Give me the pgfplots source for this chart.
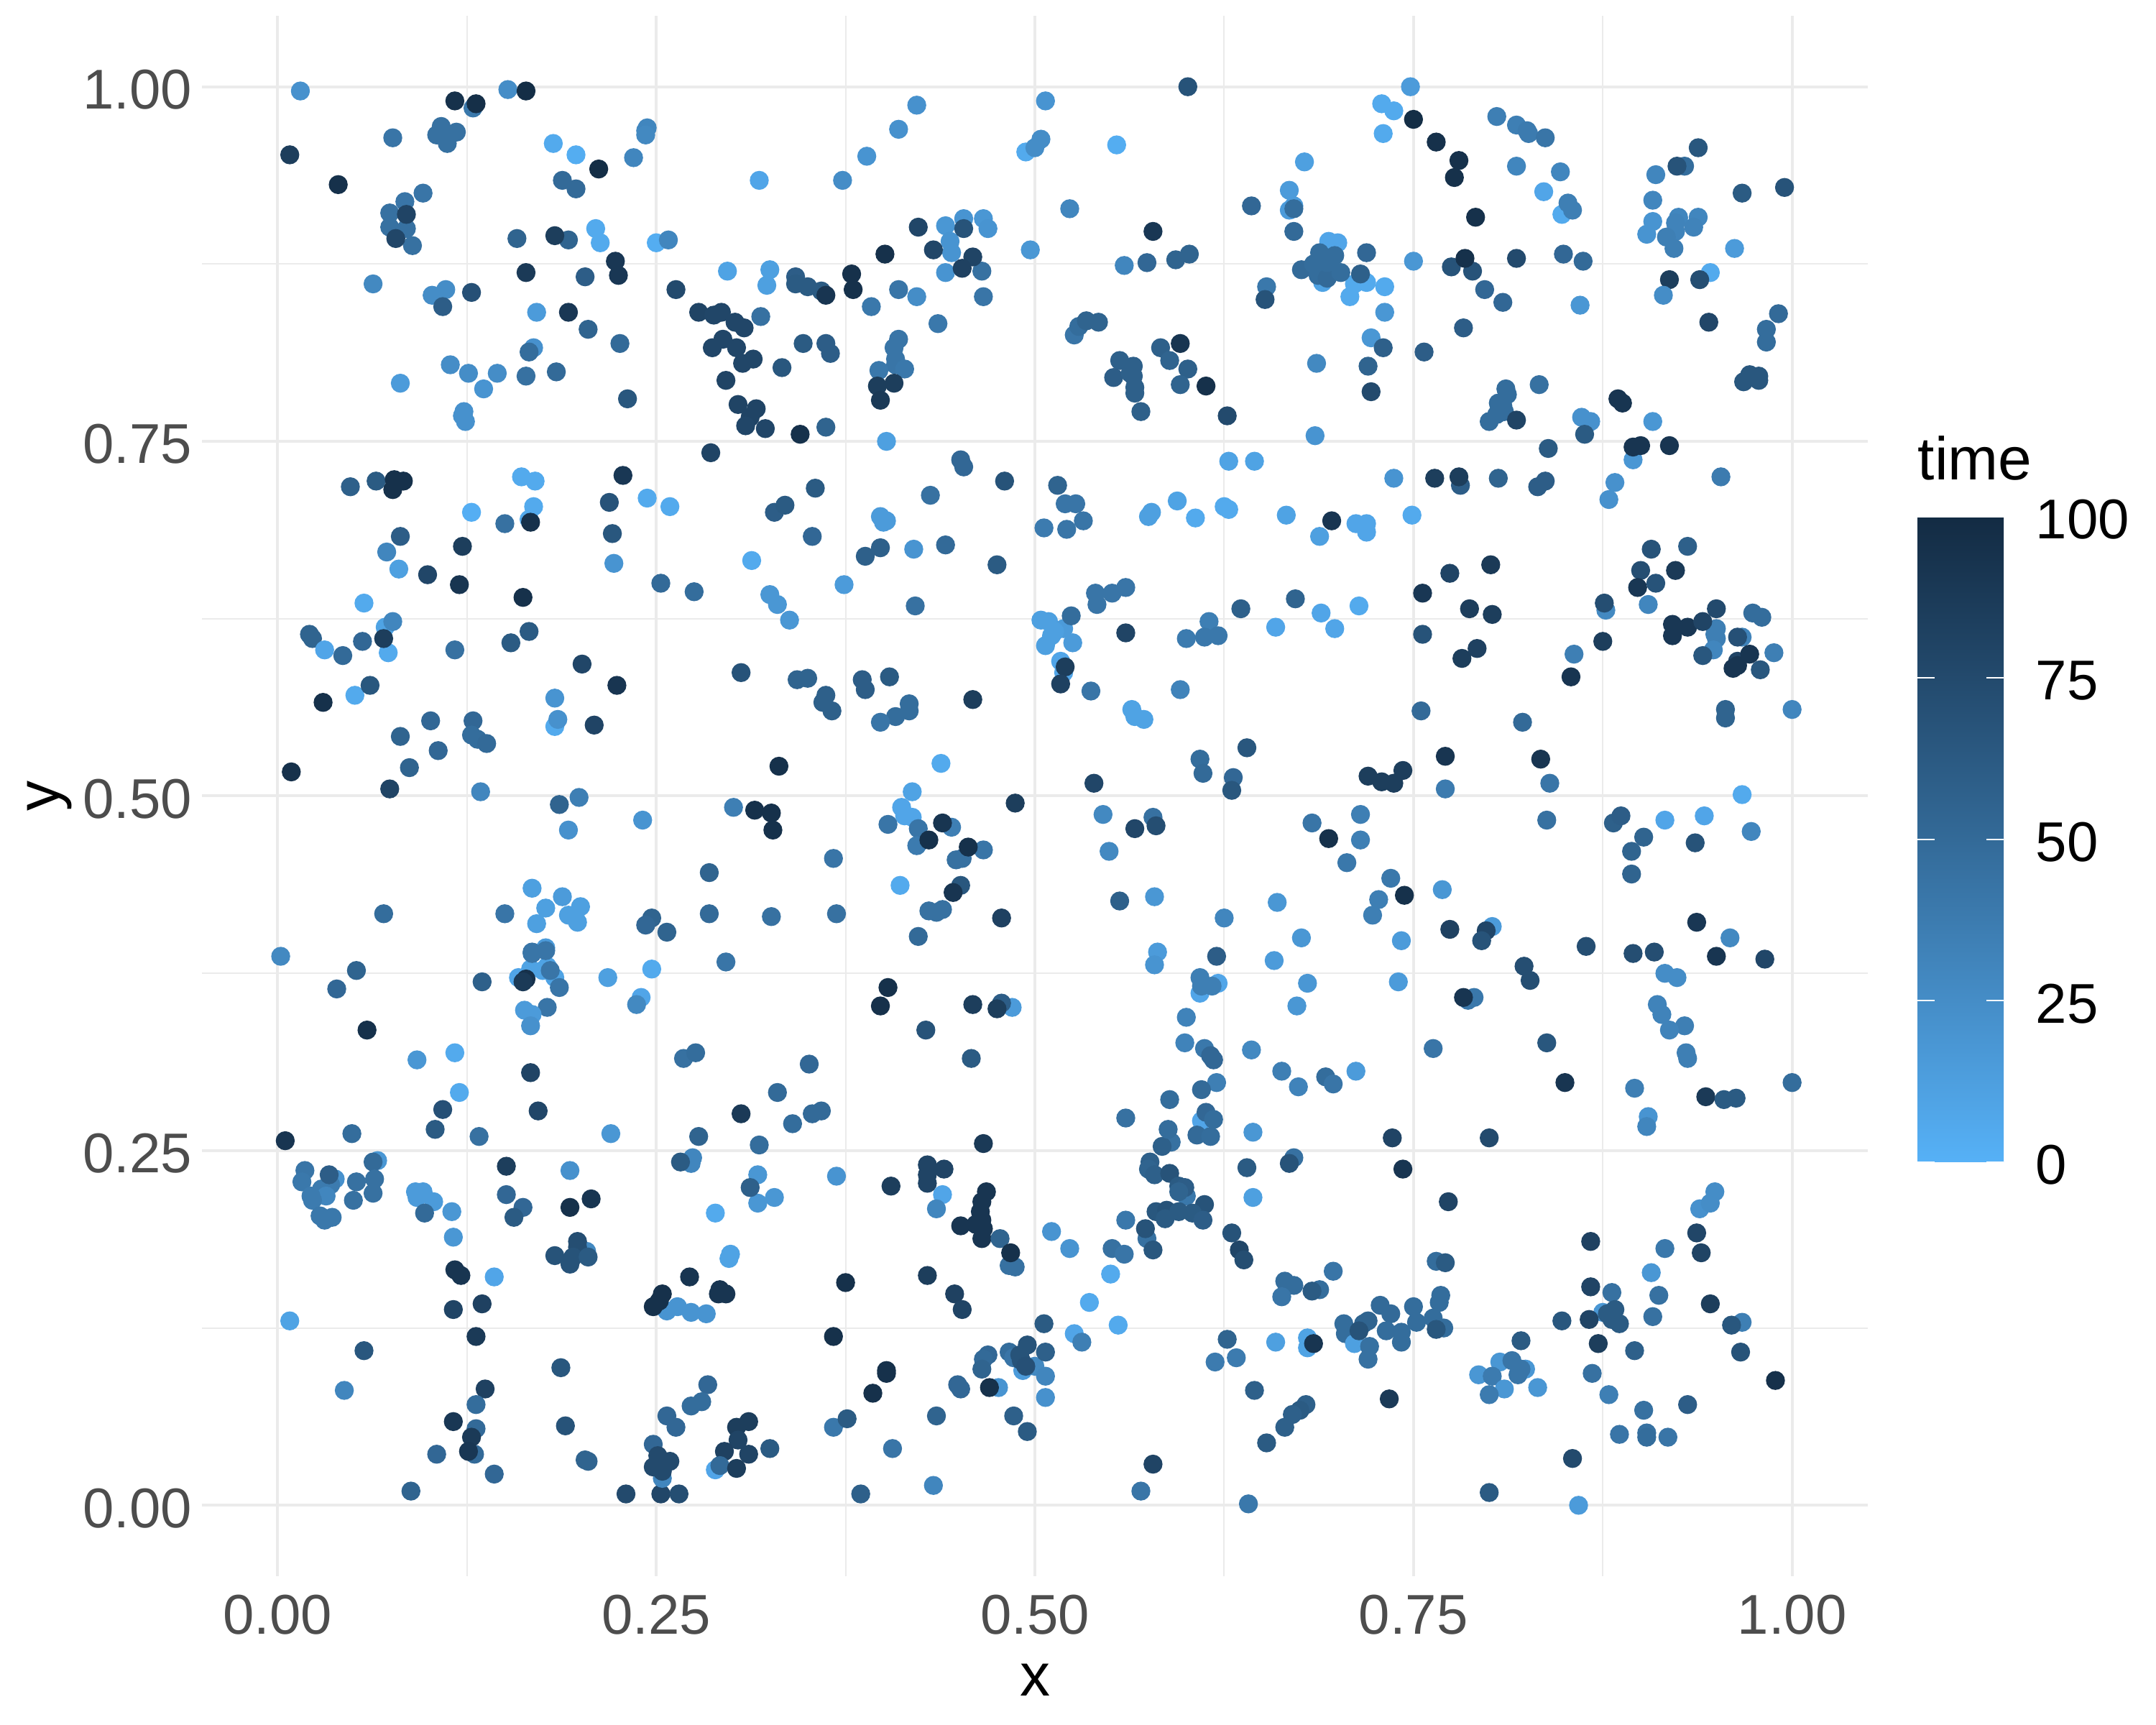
\documentclass[border=0pt]{standalone}
\usepackage{fontspec}
\setmainfont{Liberation Sans}
\usepackage{pgfplots}
\pgfplotsset{compat=1.18}
\definecolor{gridgrey}{HTML}{EBEBEB}
\definecolor{ticktext}{HTML}{4D4D4D}
\pgfplotsset{
    colormap={ggblues}{
        rgb255(0)=(86,177,247)
        rgb255(25)=(69,141,199)
        rgb255(50)=(51,106,152)
        rgb255(75)=(35,74,109)
        rgb255(100)=(19,43,67)
    }
}
\newcommand{\ticksize}{\fontsize{19.5}{23}\selectfont}
\newcommand{\titlesize}{\fontsize{21}{25}\selectfont}
\begin{document}
\begin{tikzpicture}
\useasboundingbox (0,0) rectangle (750pt,600pt);
\begin{axis}[
    at={(70.25pt,51.75pt)}, anchor=south west,
    scale only axis, width=579.5pt, height=542.75pt,
    xmin=-0.05, xmax=1.05, ymin=-0.05, ymax=1.05,
    axis lines=none,
    hide axis=false,
    axis line style={draw=none},
    xtick={0,0.25,0.5,0.75,1}, ytick={0,0.25,0.5,0.75,1},
    minor xtick={0.125,0.375,0.625,0.875}, minor ytick={0.125,0.375,0.625,0.875},
    major tick length=0pt, minor tick length=0pt,
    tick style={draw=none},
    grid=both,
    major grid style={draw=gridgrey,line width=1pt},
    minor grid style={draw=gridgrey,line width=0.5pt},
    /pgf/number format/assume math mode=true,
    /pgf/number format/fixed, /pgf/number format/fixed zerofill, /pgf/number format/precision=2,
    ticklabel style={font=\ticksize,text=ticktext},
    xticklabel style={yshift=-3pt},
    yticklabel style={yshift=-1pt},
    xlabel={x}, ylabel={y},
    xlabel style={font=\titlesize,at={(axis description cs:0.5,-0.0769)},anchor=base},
    ylabel style={font=\titlesize,at={(axis description cs:-0.0858,0.5)},anchor=base},
    colormap name=ggblues,
    point meta=explicit,
    point meta min=0, point meta max=100,
    colorbar,
    colorbar/width=30pt,
    colorbar style={
        at={(parent axis.south east)}, anchor=south west,
        xshift=8.75pt, yshift=144pt,
        scale only axis, height=224.5pt,
        axis line style={draw=none},
        ytick={0,25,50,75,100},
        major tick length=6pt,
        tick align=inside,
        ytick pos=both,
        yticklabel pos=right,
        tick style={draw=white,line width=0.5pt},
        /pgf/number format/assume math mode=true,
        /pgf/number format/fixed, /pgf/number format/precision=0,
        yticklabel style={font=\ticksize,text=black,anchor=west,inner xsep=0pt,xshift=11pt,yshift=-1pt},
    },
]
\addplot[
    scatter, only marks, mark=*, mark size=3.1pt,
    scatter/use mapped color={draw=mapped color,fill=mapped color},
] table[x=x,y=y,meta=t] {
x y t
0.015 0.997 22
0.117 0.990 95
0.129 0.985 40
0.131 0.988 97
0.152 0.998 25
0.164 0.997 98
0.076 0.964 42
0.008 0.952 85
0.040 0.931 95
0.108 0.972 45
0.105 0.966 45
0.118 0.968 45
0.112 0.960 45
0.112 0.966 45
0.182 0.960 5
0.197 0.952 3
0.212 0.942 98
0.235 0.950 30
0.243 0.969 28
0.244 0.971 30
0.243 0.966 28
0.188 0.934 50
0.197 0.928 50
0.318 0.934 8
0.096 0.925 42
0.084 0.919 42
0.074 0.911 45
0.074 0.901 45
0.085 0.900 45
0.085 0.910 80
0.089 0.888 45
0.078 0.893 78
0.158 0.893 55
0.192 0.892 55
0.183 0.895 85
0.210 0.900 5
0.213 0.890 5
0.250 0.890 3
0.258 0.892 30
0.223 0.877 90
0.225 0.867 90
0.164 0.869 88
0.203 0.866 60
0.263 0.857 75
0.297 0.870 10
0.325 0.871 12
0.323 0.860 12
0.342 0.866 60
0.342 0.861 62
0.063 0.861 28
0.111 0.857 25
0.102 0.853 25
0.109 0.845 60
0.128 0.855 70
0.171 0.841 15
0.192 0.841 90
0.205 0.829 55
0.226 0.819 50
0.278 0.841 80
0.288 0.839 78
0.293 0.841 78
0.302 0.834 78
0.308 0.830 78
0.319 0.838 45
0.294 0.822 78
0.287 0.816 78
0.303 0.816 78
0.314 0.808 78
0.307 0.805 78
0.347 0.819 62
0.333 0.802 65
0.296 0.793 80
0.169 0.816 22
0.166 0.813 48
0.114 0.804 25
0.126 0.798 25
0.145 0.798 25
0.136 0.787 20
0.164 0.796 45
0.184 0.799 50
0.081 0.791 15
0.231 0.780 65
0.123 0.771 22
0.122 0.768 22
0.124 0.764 22
0.304 0.776 80
0.316 0.773 80
0.312 0.767 80
0.309 0.761 78
0.322 0.759 78
0.345 0.755 95
0.286 0.742 80
0.048 0.718 58
0.065 0.722 62
0.077 0.723 95
0.083 0.722 95
0.076 0.716 95
0.161 0.725 5
0.170 0.722 5
0.169 0.704 5
0.128 0.700 2
0.166 0.695 5
0.167 0.693 95
0.150 0.692 45
0.081 0.683 60
0.219 0.707 68
0.228 0.726 90
0.244 0.710 5
0.259 0.704 5
0.221 0.685 65
0.328 0.700 60
0.335 0.705 62
0.422 0.987 22
0.410 0.970 22
0.389 0.951 20
0.373 0.934 25
0.507 0.990 20
0.494 0.954 5
0.504 0.963 25
0.500 0.957 25
0.554 0.959 3
0.601 1.000 68
0.678 0.947 12
0.523 0.914 30
0.643 0.916 52
0.668 0.927 15
0.671 0.916 15
0.668 0.913 15
0.671 0.914 48
0.671 0.898 50
0.441 0.902 18
0.453 0.907 20
0.466 0.907 18
0.469 0.900 20
0.444 0.891 20
0.445 0.883 20
0.423 0.901 78
0.453 0.900 68
0.433 0.885 78
0.401 0.882 95
0.379 0.868 95
0.380 0.857 95
0.441 0.869 20
0.465 0.870 45
0.459 0.880 80
0.452 0.872 82
0.497 0.885 18
0.578 0.898 90
0.559 0.874 30
0.574 0.876 52
0.593 0.878 55
0.602 0.882 55
0.694 0.891 8
0.700 0.890 8
0.690 0.862 10
0.676 0.871 50
0.653 0.859 40
0.652 0.850 68
0.688 0.883 48
0.684 0.875 48
0.688 0.870 48
0.687 0.867 48
0.693 0.865 50
0.693 0.876 48
0.350 0.859 62
0.359 0.856 62
0.362 0.853 92
0.362 0.819 60
0.365 0.812 60
0.392 0.845 40
0.410 0.857 42
0.422 0.852 25
0.466 0.852 42
0.436 0.833 40
0.410 0.822 42
0.407 0.816 42
0.408 0.808 42
0.408 0.804 42
0.414 0.801 40
0.397 0.800 40
0.396 0.789 85
0.407 0.791 85
0.398 0.779 88
0.362 0.760 55
0.402 0.750 12
0.526 0.825 42
0.529 0.831 48
0.534 0.835 55
0.542 0.834 55
0.583 0.816 58
0.596 0.819 92
0.589 0.807 55
0.556 0.807 58
0.565 0.803 58
0.565 0.796 58
0.552 0.795 60
0.563 0.798 58
0.566 0.788 58
0.566 0.784 58
0.570 0.771 58
0.601 0.801 58
0.596 0.790 55
0.613 0.789 95
0.627 0.768 75
0.686 0.805 28
0.685 0.754 20
0.451 0.737 52
0.453 0.732 52
0.480 0.722 68
0.355 0.717 62
0.431 0.712 45
0.515 0.719 55
0.520 0.706 42
0.527 0.706 42
0.532 0.694 42
0.506 0.689 38
0.521 0.688 42
0.628 0.736 10
0.645 0.736 10
0.594 0.708 10
0.606 0.696 5
0.625 0.704 5
0.628 0.702 5
0.577 0.700 12
0.575 0.697 12
0.666 0.698 10
0.398 0.697 15
0.400 0.693 15
0.402 0.694 15
0.353 0.683 52
0.688 0.683 12
0.748 1.000 15
0.729 0.988 5
0.737 0.983 5
0.730 0.967 5
0.750 0.977 98
0.765 0.961 95
0.780 0.948 95
0.777 0.936 95
0.791 0.908 95
0.805 0.979 35
0.818 0.973 35
0.825 0.969 38
0.826 0.967 38
0.837 0.964 42
0.818 0.944 30
0.847 0.940 30
0.836 0.926 8
0.848 0.910 5
0.852 0.918 35
0.855 0.913 35
0.938 0.957 65
0.929 0.944 48
0.924 0.944 68
0.910 0.938 30
0.908 0.920 30
0.967 0.925 62
0.995 0.929 68
0.925 0.907 18
0.908 0.905 20
0.904 0.896 20
0.938 0.908 30
0.925 0.908 30
0.923 0.904 32
0.935 0.901 32
0.923 0.898 32
0.917 0.894 35
0.922 0.886 35
0.962 0.886 15
0.946 0.869 5
0.939 0.864 72
0.919 0.864 85
0.915 0.853 25
0.945 0.834 78
0.991 0.840 50
0.983 0.829 48
0.983 0.820 48
0.972 0.797 65
0.968 0.792 65
0.978 0.796 65
0.978 0.793 65
0.719 0.883 52
0.750 0.877 18
0.775 0.873 68
0.789 0.870 68
0.784 0.879 95
0.818 0.879 75
0.849 0.882 52
0.862 0.877 50
0.797 0.857 52
0.809 0.848 52
0.860 0.846 18
0.783 0.830 60
0.711 0.861 5
0.719 0.862 5
0.731 0.859 5
0.708 0.852 5
0.715 0.868 58
0.731 0.841 18
0.722 0.823 18
0.730 0.816 58
0.757 0.813 60
0.720 0.803 55
0.722 0.785 75
0.698 0.881 48
0.702 0.869 48
0.696 0.694 92
0.712 0.692 8
0.719 0.692 8
0.719 0.686 8
0.811 0.787 48
0.812 0.783 48
0.806 0.777 48
0.809 0.775 48
0.810 0.771 48
0.805 0.769 48
0.800 0.764 48
0.818 0.765 80
0.833 0.790 45
0.861 0.767 22
0.867 0.764 22
0.863 0.755 62
0.839 0.745 62
0.885 0.780 92
0.888 0.777 92
0.908 0.764 18
0.895 0.737 18
0.895 0.746 92
0.900 0.747 92
0.919 0.747 92
0.764 0.724 85
0.781 0.719 60
0.780 0.725 85
0.737 0.724 20
0.806 0.724 55
0.832 0.718 60
0.837 0.722 60
0.883 0.721 22
0.879 0.709 22
0.953 0.725 38
0.749 0.698 5
0.122 0.676 85
0.072 0.672 30
0.080 0.660 12
0.099 0.656 78
0.120 0.649 92
0.162 0.640 95
0.222 0.664 20
0.253 0.650 50
0.275 0.644 48
0.313 0.666 5
0.325 0.642 18
0.330 0.635 18
0.338 0.624 18
0.057 0.636 5
0.071 0.619 10
0.076 0.623 30
0.021 0.614 55
0.023 0.611 55
0.031 0.603 8
0.043 0.599 50
0.056 0.609 52
0.073 0.601 5
0.070 0.611 85
0.117 0.603 45
0.154 0.608 62
0.166 0.616 62
0.201 0.593 78
0.224 0.578 92
0.051 0.571 5
0.061 0.578 65
0.030 0.566 95
0.183 0.569 20
0.183 0.549 5
0.185 0.554 22
0.209 0.550 80
0.101 0.553 52
0.129 0.553 52
0.081 0.542 55
0.128 0.543 48
0.132 0.540 48
0.138 0.537 50
0.106 0.532 52
0.087 0.520 55
0.009 0.517 95
0.074 0.505 80
0.134 0.503 30
0.199 0.499 35
0.186 0.494 55
0.241 0.483 20
0.192 0.476 22
0.301 0.492 35
0.315 0.490 95
0.326 0.488 95
0.327 0.476 95
0.331 0.521 95
0.306 0.587 68
0.343 0.582 55
0.285 0.446 55
0.168 0.435 12
0.188 0.429 15
0.200 0.422 12
0.177 0.421 12
0.192 0.416 12
0.198 0.411 12
0.171 0.410 12
0.150 0.417 42
0.070 0.417 48
0.285 0.417 50
0.326 0.415 45
0.247 0.414 55
0.243 0.409 52
0.257 0.404 55
0.002 0.387 28
0.052 0.377 55
0.039 0.364 52
0.296 0.383 42
0.247 0.378 5
0.218 0.372 12
0.177 0.393 15
0.167 0.378 10
0.178 0.380 10
0.159 0.372 8
0.175 0.377 10
0.183 0.372 10
0.168 0.389 42
0.168 0.390 42
0.177 0.391 42
0.180 0.377 42
0.164 0.371 95
0.162 0.369 88
0.186 0.365 42
0.135 0.369 58
0.178 0.351 42
0.163 0.349 15
0.168 0.346 15
0.167 0.338 22
0.240 0.358 8
0.237 0.353 28
0.350 0.583 55
0.362 0.571 58
0.360 0.566 58
0.366 0.560 58
0.388 0.669 58
0.398 0.675 58
0.420 0.674 20
0.441 0.677 50
0.475 0.663 62
0.374 0.649 15
0.421 0.634 45
0.386 0.582 60
0.388 0.575 60
0.404 0.584 62
0.417 0.565 48
0.417 0.560 48
0.408 0.556 48
0.398 0.552 42
0.459 0.568 85
0.540 0.643 42
0.551 0.643 42
0.560 0.647 42
0.541 0.635 42
0.504 0.624 12
0.509 0.623 12
0.519 0.618 15
0.513 0.616 12
0.511 0.613 12
0.525 0.608 15
0.507 0.606 12
0.524 0.627 48
0.517 0.595 8
0.519 0.587 8
0.520 0.591 85
0.517 0.579 82
0.537 0.574 42
0.560 0.615 80
0.600 0.611 38
0.615 0.623 35
0.612 0.612 40
0.621 0.613 40
0.636 0.632 58
0.659 0.619 8
0.596 0.575 32
0.564 0.561 10
0.566 0.556 10
0.572 0.554 10
0.672 0.639 55
0.689 0.629 8
0.640 0.534 65
0.609 0.526 48
0.611 0.516 50
0.631 0.513 52
0.630 0.504 65
0.539 0.509 78
0.438 0.523 5
0.419 0.503 10
0.412 0.492 8
0.419 0.485 8
0.414 0.486 8
0.403 0.480 42
0.445 0.478 35
0.423 0.477 42
0.439 0.481 92
0.422 0.465 38
0.430 0.469 95
0.487 0.495 85
0.466 0.462 42
0.452 0.456 45
0.448 0.455 45
0.456 0.464 95
0.367 0.456 42
0.545 0.487 28
0.578 0.485 45
0.580 0.479 72
0.566 0.477 78
0.549 0.461 28
0.683 0.481 42
0.694 0.470 95
0.411 0.437 5
0.451 0.437 65
0.446 0.432 92
0.430 0.419 45
0.435 0.418 45
0.439 0.420 45
0.369 0.417 45
0.478 0.414 82
0.423 0.401 50
0.556 0.426 58
0.579 0.429 18
0.625 0.414 30
0.660 0.425 18
0.676 0.400 18
0.620 0.387 60
0.658 0.384 15
0.581 0.390 15
0.579 0.381 20
0.621 0.368 8
0.609 0.361 8
0.609 0.372 35
0.617 0.366 35
0.610 0.366 35
0.680 0.368 18
0.673 0.352 18
0.600 0.344 32
0.403 0.365 95
0.398 0.352 95
0.459 0.353 85
0.485 0.351 15
0.478 0.354 60
0.475 0.350 85
0.714 0.634 5
0.698 0.618 8
0.715 0.487 35
0.715 0.469 35
0.706 0.453 40
0.735 0.442 40
0.727 0.427 35
0.723 0.416 35
0.744 0.430 95
0.769 0.434 18
0.742 0.398 15
0.740 0.369 15
0.774 0.406 82
0.802 0.408 15
0.798 0.405 78
0.795 0.398 68
0.823 0.380 72
0.827 0.370 72
0.790 0.358 40
0.786 0.356 40
0.783 0.358 92
0.864 0.394 72
0.895 0.389 72
0.909 0.390 72
0.916 0.375 25
0.924 0.372 25
0.911 0.353 32
0.914 0.346 32
0.929 0.338 35
0.937 0.411 90
0.959 0.400 28
0.950 0.387 92
0.982 0.385 78
0.894 0.445 55
0.894 0.461 55
0.902 0.471 55
0.882 0.481 58
0.887 0.486 60
0.916 0.483 8
0.942 0.486 8
0.967 0.501 5
0.973 0.475 30
0.936 0.467 68
0.838 0.483 45
0.840 0.509 42
0.834 0.526 92
0.771 0.505 38
0.771 0.528 92
0.720 0.514 85
0.729 0.510 85
0.737 0.509 85
0.743 0.518 85
0.822 0.552 50
0.755 0.560 50
0.956 0.561 55
0.956 0.555 55
1.000 0.561 30
0.854 0.584 92
0.856 0.600 35
0.875 0.609 85
0.877 0.631 28
0.876 0.636 72
0.905 0.635 30
0.756 0.643 90
0.756 0.614 68
0.774 0.657 80
0.801 0.663 88
0.787 0.632 85
0.802 0.628 85
0.792 0.604 82
0.782 0.597 85
0.907 0.674 68
0.931 0.676 58
0.900 0.659 72
0.923 0.659 88
0.910 0.650 68
0.898 0.647 90
0.950 0.632 75
0.950 0.618 35
0.949 0.614 35
0.950 0.611 35
0.948 0.603 30
0.921 0.621 90
0.921 0.613 90
0.931 0.619 90
0.941 0.623 80
0.941 0.599 65
0.967 0.612 32
0.964 0.612 70
0.974 0.629 48
0.980 0.626 48
0.988 0.601 35
0.964 0.595 80
0.979 0.589 65
0.972 0.600 92
0.964 0.592 92
0.961 0.590 92
0.059 0.335 95
0.092 0.314 18
0.117 0.319 5
0.167 0.305 80
0.120 0.291 5
0.109 0.279 70
0.172 0.278 78
0.104 0.265 62
0.049 0.262 48
0.133 0.260 45
0.220 0.262 18
0.005 0.257 92
0.268 0.315 45
0.276 0.319 48
0.330 0.291 50
0.306 0.276 88
0.340 0.269 48
0.278 0.260 55
0.318 0.254 48
0.317 0.233 18
0.317 0.213 18
0.328 0.217 18
0.312 0.224 58
0.289 0.206 5
0.274 0.245 30
0.273 0.241 30
0.266 0.242 62
0.193 0.236 22
0.151 0.239 85
0.151 0.219 52
0.162 0.210 52
0.156 0.203 62
0.207 0.216 92
0.193 0.210 95
0.066 0.243 18
0.063 0.242 50
0.018 0.236 42
0.016 0.228 40
0.038 0.230 22
0.035 0.226 38
0.029 0.223 38
0.025 0.218 38
0.032 0.218 30
0.022 0.218 38
0.023 0.215 38
0.034 0.233 60
0.052 0.228 45
0.064 0.230 45
0.063 0.220 45
0.050 0.215 45
0.028 0.204 40
0.031 0.201 40
0.036 0.203 40
0.091 0.221 15
0.096 0.221 15
0.092 0.217 15
0.103 0.214 15
0.097 0.206 50
0.115 0.207 18
0.116 0.189 18
0.117 0.166 92
0.121 0.162 92
0.143 0.161 8
0.204 0.179 28
0.198 0.186 72
0.198 0.182 72
0.183 0.176 68
0.195 0.175 68
0.205 0.175 62
0.193 0.170 68
0.116 0.138 80
0.135 0.142 82
0.131 0.119 88
0.008 0.130 10
0.057 0.109 65
0.044 0.081 30
0.187 0.097 65
0.137 0.082 82
0.131 0.071 48
0.116 0.059 90
0.131 0.054 50
0.130 0.036 50
0.128 0.048 88
0.126 0.038 90
0.105 0.036 52
0.143 0.022 52
0.088 0.010 55
0.190 0.056 68
0.203 0.032 55
0.205 0.031 55
0.230 0.008 75
0.253 0.008 78
0.265 0.008 72
0.254 0.019 30
0.248 0.043 52
0.251 0.035 75
0.259 0.031 75
0.248 0.027 75
0.253 0.028 75
0.254 0.024 75
0.284 0.085 52
0.280 0.073 48
0.273 0.070 48
0.257 0.063 52
0.263 0.055 52
0.311 0.059 85
0.303 0.055 85
0.304 0.046 80
0.295 0.038 82
0.311 0.036 80
0.325 0.040 62
0.289 0.025 8
0.292 0.028 50
0.303 0.026 85
0.272 0.161 92
0.264 0.140 20
0.257 0.137 20
0.273 0.136 20
0.283 0.135 20
0.254 0.149 95
0.252 0.144 95
0.248 0.140 95
0.291 0.149 92
0.292 0.152 92
0.296 0.149 92
0.299 0.177 10
0.298 0.174 10
0.351 0.311 52
0.353 0.276 50
0.359 0.278 50
0.428 0.335 68
0.458 0.315 62
0.466 0.255 88
0.369 0.232 20
0.429 0.240 80
0.429 0.233 80
0.429 0.227 80
0.440 0.237 80
0.405 0.225 85
0.439 0.219 8
0.435 0.209 30
0.468 0.221 92
0.465 0.214 92
0.464 0.207 92
0.465 0.201 92
0.461 0.198 92
0.451 0.197 92
0.466 0.195 92
0.465 0.188 92
0.477 0.188 55
0.483 0.169 45
0.487 0.168 45
0.484 0.178 95
0.511 0.193 20
0.523 0.181 20
0.429 0.162 85
0.447 0.149 82
0.452 0.138 80
0.375 0.157 95
0.367 0.119 95
0.402 0.095 95
0.402 0.093 95
0.393 0.079 95
0.367 0.055 40
0.376 0.061 62
0.406 0.040 42
0.435 0.063 55
0.385 0.008 58
0.433 0.014 30
0.449 0.085 52
0.451 0.082 52
0.476 0.083 20
0.470 0.083 95
0.486 0.063 58
0.495 0.052 62
0.506 0.128 62
0.469 0.106 52
0.466 0.103 50
0.465 0.096 55
0.492 0.095 15
0.500 0.098 28
0.483 0.108 48
0.486 0.104 42
0.495 0.113 68
0.490 0.106 68
0.491 0.102 68
0.494 0.098 70
0.507 0.108 58
0.507 0.091 30
0.507 0.076 22
0.526 0.121 8
0.531 0.115 35
0.536 0.143 5
0.550 0.163 5
0.555 0.127 5
0.551 0.181 45
0.559 0.177 42
0.560 0.201 40
0.574 0.188 45
0.573 0.195 68
0.578 0.180 65
0.560 0.273 45
0.589 0.286 48
0.590 0.256 45
0.584 0.253 58
0.588 0.265 48
0.576 0.242 58
0.575 0.237 55
0.579 0.233 58
0.589 0.234 68
0.600 0.218 40
0.595 0.225 62
0.599 0.224 60
0.595 0.221 55
0.612 0.212 68
0.580 0.207 65
0.587 0.208 68
0.586 0.202 62
0.595 0.207 62
0.604 0.206 62
0.611 0.201 60
0.599 0.326 32
0.612 0.322 40
0.616 0.317 52
0.618 0.314 52
0.620 0.298 35
0.610 0.293 50
0.610 0.271 8
0.613 0.277 52
0.618 0.272 48
0.607 0.261 50
0.616 0.260 48
0.643 0.321 28
0.644 0.263 18
0.640 0.238 62
0.644 0.217 12
0.663 0.306 35
0.674 0.295 32
0.692 0.302 48
0.671 0.245 45
0.668 0.241 68
0.630 0.192 68
0.635 0.180 78
0.638 0.173 72
0.665 0.158 48
0.671 0.155 48
0.663 0.147 42
0.688 0.152 48
0.683 0.151 62
0.627 0.117 55
0.619 0.101 38
0.633 0.104 38
0.645 0.081 58
0.659 0.115 12
0.680 0.118 10
0.680 0.111 10
0.684 0.114 92
0.679 0.071 58
0.675 0.067 62
0.670 0.064 58
0.665 0.055 58
0.653 0.044 62
0.578 0.029 80
0.570 0.010 42
0.641 0.001 40
0.697 0.297 42
0.712 0.306 15
0.763 0.322 42
0.838 0.326 65
0.850 0.298 92
0.896 0.294 35
0.919 0.335 32
0.930 0.319 35
0.931 0.315 35
0.943 0.288 88
0.955 0.286 62
0.963 0.287 62
1.000 0.298 48
0.905 0.274 20
0.904 0.267 30
0.736 0.259 80
0.800 0.259 75
0.743 0.237 92
0.773 0.214 80
0.697 0.165 42
0.728 0.141 50
0.735 0.135 50
0.720 0.130 55
0.717 0.128 55
0.704 0.128 48
0.705 0.121 48
0.711 0.114 12
0.714 0.123 68
0.721 0.112 45
0.720 0.103 45
0.732 0.123 48
0.742 0.122 48
0.742 0.115 48
0.750 0.140 48
0.752 0.129 48
0.763 0.132 48
0.765 0.172 48
0.771 0.171 62
0.768 0.148 48
0.767 0.143 48
0.770 0.125 48
0.765 0.124 65
0.734 0.075 88
0.821 0.116 62
0.807 0.101 18
0.824 0.096 18
0.815 0.102 42
0.821 0.096 42
0.819 0.092 42
0.793 0.092 18
0.802 0.091 38
0.810 0.082 18
0.800 0.078 38
0.832 0.083 18
0.867 0.186 82
0.867 0.154 80
0.881 0.150 45
0.875 0.136 18
0.883 0.138 62
0.878 0.135 62
0.881 0.131 62
0.886 0.128 62
0.866 0.131 80
0.848 0.130 65
0.908 0.133 45
0.912 0.148 45
0.907 0.164 18
0.916 0.181 40
0.937 0.192 78
0.940 0.178 80
0.939 0.209 22
0.946 0.213 25
0.949 0.221 25
0.946 0.142 85
0.967 0.129 35
0.960 0.127 65
0.966 0.108 68
0.872 0.114 85
0.896 0.109 58
0.868 0.093 45
0.879 0.078 35
0.902 0.067 45
0.931 0.071 60
0.886 0.050 42
0.904 0.051 45
0.904 0.048 48
0.918 0.048 42
0.989 0.088 95
0.855 0.033 75
0.800 0.009 62
0.859 0.000 15
};
\end{axis}
\node[font=\titlesize,anchor=base west,inner sep=0pt] at (667pt,433pt) {time};
\end{tikzpicture}
\end{document}
